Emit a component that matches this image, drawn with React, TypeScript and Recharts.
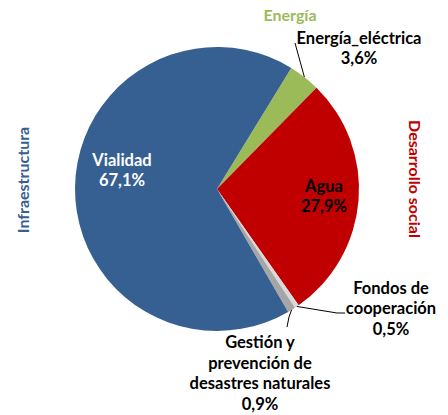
import { Cell, Pie, PieChart } from "recharts";

const categories = [
  "Energía_eléctrica",
  "Agua",
  "Fondos de cooperación",
  "Gestión y prevención de desastres naturales",
  "Vialidad",
];
const values = [3.6, 27.9, 0.5, 0.9, 67.1];
const valueLabels = ["3,6%", "27,9%", "0,5%", "0,9%", "67,1%"];
const labelLines = [
  ["Energía_eléctrica", "3,6%"],
  ["Agua", "27,9%"],
  ["Fondos de", "cooperación", "0,5%"],
  ["Gestión y", "prevención de", "desastres naturales", "0,9%"],
  ["Vialidad", "67,1%"],
];
const groupTitles = ["Energía", "Infraestructura", "Desarrollo social"];

const data = categories.map((name, i) => ({
  name,
  value: values[i],
  label: valueLabels[i],
}));

const COLORS = ["#9BBB59", "#C00000", "#D9D9D9", "#A6A6A6", "#376092"];
const FONT = "Lato, 'Open Sans', sans-serif";
const W = 448;
const H = 415;
const CX = 217;
const CY = 189;
const R = 142;

// text block center offsets relative to pie center, and leader line bends
const labelPos = [
  { dx: 142, dy: -141, color: "#000", line: [[78, -146]] },
  { dx: 107, dy: 7, color: "#000" },
  { dx: 174, dy: 119, color: "#000", line: [[120, 124], [128, 124]] },
  { dx: 43, dy: 184, color: "#000", line: [[72, 128], [70, 138]] },
  { dx: -95, dy: -19, color: "#fff" },
];

const RAD = Math.PI / 180;

function renderLabel(props: any) {
  const { cx, cy, midAngle, outerRadius, index } = props;
  const cfg = labelPos[index];
  const lines = labelLines[index];
  const lh = 20.5;
  const x = cx + cfg.dx;
  const top = cy + cfg.dy - ((lines.length - 1) * lh) / 2;
  const ex = cx + outerRadius * Math.cos(-midAngle * RAD);
  const ey = cy + outerRadius * Math.sin(-midAngle * RAD);
  let path = "";
  if (cfg.line) {
    path = `M${ex},${ey}` + cfg.line.map(([px, py]) => ` L${cx + px},${cy + py}`).join("");
  }
  return (
    <g key={`lbl-${index}`}>
      {path && <path d={path} stroke="#000" strokeWidth={1} fill="none" />}
      <text
        x={x}
        y={top}
        textAnchor="middle"
        dominantBaseline="central"
        fill={cfg.color}
        fontFamily={FONT}
        fontWeight="bold"
        fontSize={16.5}
      >
        {lines.map((t, i) => (
          <tspan key={i} x={x} dy={i === 0 ? 0 : lh}>
            {t}
          </tspan>
        ))}
      </text>
    </g>
  );
}

export default function App() {
  return (
    <div style={{ position: "relative", width: W, height: H, background: "#fff" }}>
      <style>{`body{margin:0}`}</style>
      <PieChart width={W} height={H} margin={{ top: 0, right: 0, bottom: 0, left: 0 }}>
        <Pie
          data={data}
          dataKey="value"
          nameKey="name"
          cx={CX}
          cy={CY}
          outerRadius={R}
          startAngle={58.5}
          endAngle={-301.5}
          stroke="none"
          labelLine={false}
          label={renderLabel}
          isAnimationActive={false}
        >
          {data.map((d, i) => (
            <Cell key={d.name} fill={COLORS[i]} />
          ))}
        </Pie>
      </PieChart>
      <svg
        width={W}
        height={H}
        style={{ position: "absolute", left: 0, top: 0, pointerEvents: "none" }}
      >
        <text
          x={290}
          y={14}
          textAnchor="middle"
          dominantBaseline="central"
          fill="#9BBB59"
          fontFamily={FONT}
          fontWeight="bold"
          fontSize={16}
        >
          {groupTitles[0]}
        </text>
        <text
          x={22}
          y={180}
          textAnchor="middle"
          dominantBaseline="central"
          fill="#376092"
          fontFamily={FONT}
          fontWeight="bold"
          fontSize={16}
          transform="rotate(-90 22 180)"
        >
          {groupTitles[1]}
        </text>
        <text
          x={415}
          y={179}
          textAnchor="middle"
          dominantBaseline="central"
          fill="#C00000"
          fontFamily={FONT}
          fontWeight="bold"
          fontSize={16}
          transform="rotate(90 415 179)"
        >
          {groupTitles[2]}
        </text>
      </svg>
    </div>
  );
}
